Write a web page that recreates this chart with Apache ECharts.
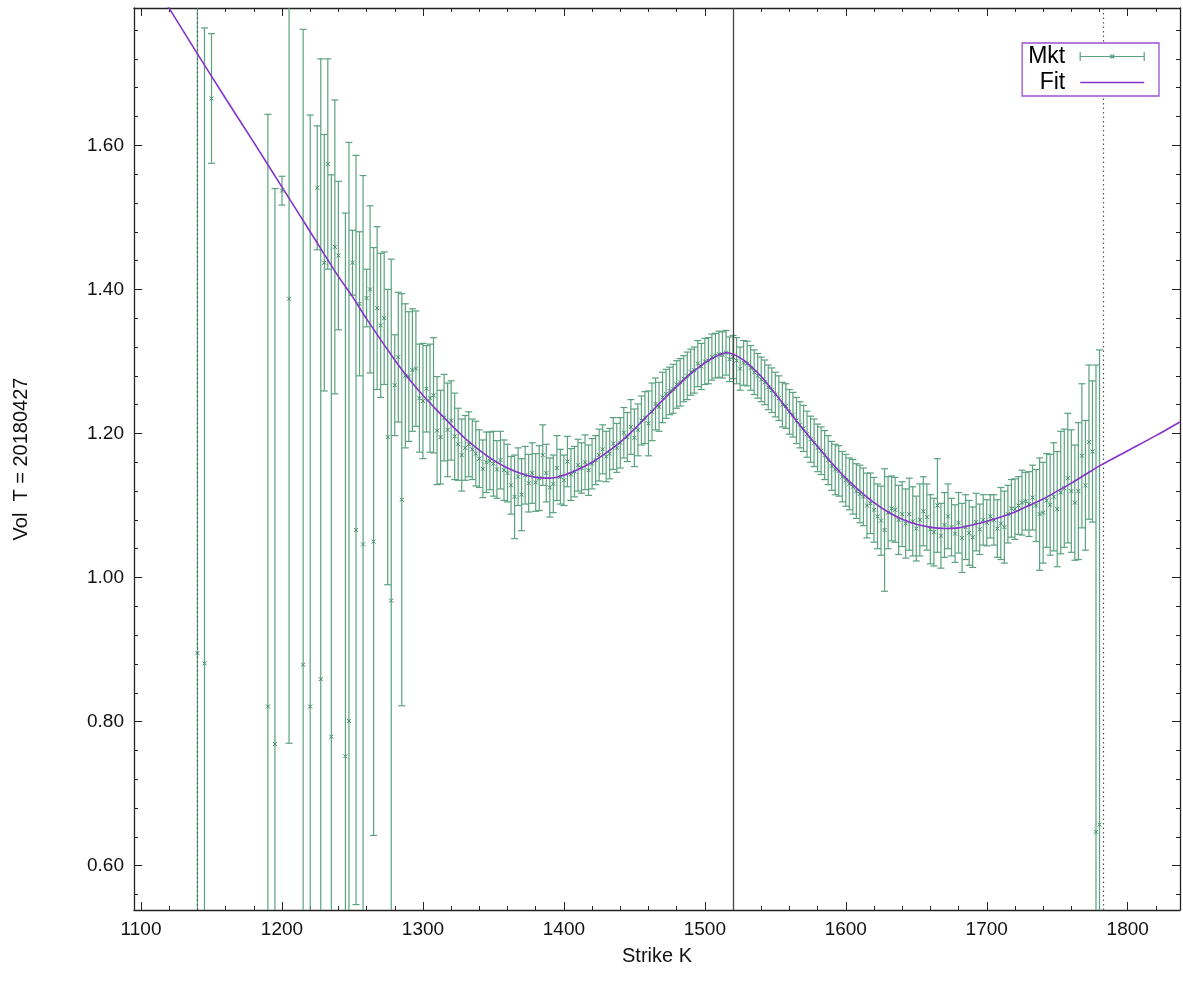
<!DOCTYPE html>
<html>
<head>
<meta charset="utf-8">
<script src="https://cdn.jsdelivr.net/npm/echarts@6/dist/echarts.min.js"></script>
<style>
html,body{margin:0;padding:0;background:#fff;}
#chart{width:1183px;height:984px;}
</style>
</head>
<body>
<div id="chart"></div>
<script>
// ---------- DATA ----------
const xTicks = [1100, 1200, 1300, 1400, 1500, 1600, 1700, 1800];
const xMinorTicks = [1100,1120,1140,1160,1180,1200,1220,1240,1260,1280,1300,1320,1340,1360,1380,1400,1420,1440,1460,1480,1500,1520,1540,1560,1580,1600,1620,1640,1660,1680,1700,1720,1740,1760,1780,1800,1820];
const yTicks = [0.6, 0.8, 1.0, 1.2, 1.4, 1.6];
const yMinorTicks = [0.56,0.60,0.64,0.68,0.72,0.76,0.80,0.84,0.88,0.92,0.96,1.00,1.04,1.08,1.12,1.16,1.20,1.24,1.28,1.32,1.36,1.40,1.44,1.48,1.52,1.56,1.60,1.64,1.68,1.72,1.76];

const atmLine = [1520];
const boundLines = [1140, 1783];

// Market vols with error half-widths
const mktStrike = [
 1140,1145,1150,1190,1195,1200,1205,1215,1220,1225,
 1227.5,1230,1232.5,1235,1237.5,1240,1245,1247.5,1250,1252.5,
 1255,1257.5,1260,1262.5,1265,1267.5,1270,1272.5,1275,1277.5,
 1280,1282.5,1285,1287.5,
 1290,1292.5,1295,1297.5,1300,1302.5,1305,1307.5,1310,1312.5,
 1315,1317.5,1320,1322.5,1325,1327.5,1330,1332.5,1335,1337.5,
 1340,1342.5,1345,1347.5,1350,1352.5,1355,1357.5,1360,1362.5,
 1365,1367.5,1370,1372.5,1375,1377.5,1380,1382.5,1385,1387.5,
 1390,1392.5,1395,1397.5,1400,1402.5,1405,1407.5,1410,1412.5,
 1415,1417.5,1420,1422.5,1425,1427.5,1430,1432.5,1435,1437.5,
 1440,1442.5,1445,1447.5,1450,1452.5,1455,1457.5,1460,1462.5,
 1465,1467.5,1470,1472.5,1475,1477.5,1480,1482.5,1485,1487.5,
 1490,1492.5,1495,1497.5,1500,1502.5,1505,1507.5,1510,1512.5,
 1515,1517.5,1520,1522.5,1525,1527.5,1530,1532.5,1535,1537.5,
 1540,1542.5,1545,1547.5,1550,1552.5,1555,1557.5,1560,1562.5,
 1565,1567.5,1570,1572.5,1575,1577.5,1580,1582.5,1585,1587.5,
 1590,1592.5,1595,1597.5,1600,1602.5,1605,1607.5,1610,1612.5,
 1615,1617.5,1620,1622.5,1625,1627.5,1630,1632.5,1635,1637.5,
 1640,1642.5,1645,1647.5,1650,1652.5,1655,1657.5,1660,1662.5,
 1665,1667.5,1670,1672.5,1675,1677.5,1680,1682.5,1685,1687.5,
 1690,1692.5,1695,1697.5,1700,1702.5,1705,1707.5,1710,1712.5,
 1715,1717.5,1720,1722.5,1725,1727.5,1730,1732.5,1735,1737.5,
 1740,1742.5,1745,1747.5,1750,1752.5,1755,1757.5,1760,1762.5,
 1765,1767.5,1770,1772.5,1775,1777.5,1780
];
const mktVol = [
 0.895,0.881,1.665,0.821,0.769,1.537,1.387,0.879,0.821,1.541,
 0.859,1.437,1.574,0.779,1.459,1.447,0.752,0.801,1.437,1.066,
 1.380,1.046,1.388,1.400,1.050,1.374,1.350,1.360,1.195,0.968,
 1.267,1.306,1.108,1.280,
 1.279,1.288,1.290,1.249,1.245,1.262,1.249,1.253,1.204,1.195,
 1.222,1.205,1.218,1.196,1.185,1.170,1.180,1.185,1.178,1.172,
 1.165,1.151,1.160,1.162,1.158,1.150,1.163,1.149,1.145,1.128,
 1.112,1.140,1.115,1.142,1.131,1.145,1.132,1.138,1.170,1.145,
 1.125,1.130,1.152,1.140,1.135,1.161,1.143,1.147,1.156,1.152,
 1.160,1.149,1.158,1.163,1.170,1.178,1.168,1.172,1.186,1.180,
 1.187,1.201,1.195,1.209,1.194,1.205,1.218,1.222,1.214,1.230,
 1.241,1.237,1.250,1.255,1.259,1.262,1.268,1.271,1.276,1.280,
 1.285,1.288,1.297,1.293,1.300,1.301,1.306,1.308,1.310,1.309,
 1.312,1.303,1.306,1.301,1.290,1.298,1.297,1.291,1.285,1.280,
 1.275,1.271,1.264,1.260,1.254,1.249,1.240,1.238,1.230,1.226,
 1.218,1.212,1.207,1.199,1.192,1.187,1.180,1.176,1.170,1.163,
 1.155,1.150,1.148,1.140,1.135,1.130,1.126,1.120,1.116,1.112,
 1.100,1.103,1.094,1.085,1.079,1.066,1.090,1.096,1.094,1.080,
 1.088,1.075,1.088,1.078,1.068,1.080,1.092,1.084,1.067,1.063,
 1.100,1.058,1.073,1.085,1.070,1.061,1.076,1.055,1.070,1.062,
 1.056,1.077,1.067,1.080,1.076,1.085,1.080,1.068,1.075,1.070,
 1.088,1.096,1.095,1.100,1.104,1.106,1.102,1.111,1.100,1.088,
 1.090,1.107,1.101,1.112,1.095,1.118,1.124,1.138,1.120,1.104,
 1.120,1.169,1.128,1.188,1.175,0.647,0.657
];
const mktErr = [
 1.000,0.882,0.090,0.822,0.771,0.020,0.617,0.882,0.821,0.086,
 0.861,0.178,0.146,0.780,0.204,0.103,0.754,0.803,0.045,0.520,
 0.100,0.512,0.040,0.116,0.408,0.113,0.100,0.092,0.205,0.474,
 0.070,0.090,0.286,0.100,
 0.090,0.085,0.080,0.075,0.080,0.060,0.075,0.080,0.075,0.065,
 0.060,0.065,0.055,0.060,0.050,0.050,0.045,0.045,0.042,0.045,
 0.040,0.040,0.042,0.040,0.045,0.040,0.040,0.042,0.040,0.040,
 0.058,0.040,0.050,0.040,0.040,0.042,0.040,0.045,0.042,0.040,
 0.041,0.040,0.045,0.038,0.035,0.035,0.036,0.035,0.036,0.035,
 0.038,0.035,0.035,0.034,0.036,0.034,0.035,0.035,0.036,0.034,
 0.035,0.035,0.034,0.038,0.040,0.036,0.034,0.036,0.045,0.040,
 0.036,0.034,0.035,0.034,0.033,0.034,0.033,0.033,0.032,0.033,
 0.032,0.032,0.032,0.032,0.032,0.032,0.032,0.031,0.032,0.032,
 0.031,0.031,0.030,0.032,0.030,0.031,0.031,0.031,0.031,0.031,
 0.031,0.031,0.031,0.031,0.031,0.031,0.031,0.031,0.031,0.031,
 0.032,0.032,0.032,0.032,0.032,0.033,0.033,0.033,0.034,0.034,
 0.034,0.035,0.035,0.035,0.036,0.036,0.038,0.038,0.040,0.040,
 0.045,0.042,0.045,0.045,0.048,0.085,0.050,0.045,0.045,0.048,
 0.045,0.048,0.050,0.048,0.045,0.050,0.048,0.046,0.048,0.047,
 0.065,0.045,0.045,0.045,0.040,0.040,0.042,0.048,0.045,0.045,
 0.042,0.040,0.035,0.035,0.032,0.030,0.035,0.040,0.050,0.050,
 0.040,0.040,0.042,0.040,0.045,0.040,0.045,0.045,0.050,0.078,
 0.070,0.065,0.070,0.075,0.080,0.085,0.082,0.090,0.085,0.080,
 0.095,0.100,0.090,0.107,0.098,0.648,0.659
];

// Fitted smile
const fitStrike = [1095,1120,1140,1160,1180,1200,1220,1240,1250,1260,1280,1290,1300,1310,1320,1330,1340,1350,1360,1370,1380,1390,1400,1410,1420,1430,1440,1450,1460,1470,1480,1490,1500,1505,1510,1515,1520,1525,1530,1540,1550,1560,1570,1580,1590,1600,1610,1620,1630,1640,1650,1660,1670,1680,1690,1700,1710,1720,1730,1740,1750,1760,1770,1780,1800,1820,1837];
const fitVol = [1.867,1.790,1.727,1.665,1.604,1.542,1.480,1.418,1.390,1.359,1.302,1.276,1.253,1.232,1.212,1.193,1.177,1.163,1.152,1.144,1.139,1.138,1.142,1.150,1.160,1.173,1.188,1.206,1.226,1.246,1.265,1.283,1.298,1.304,1.309,1.312,1.310,1.305,1.298,1.279,1.255,1.230,1.205,1.182,1.159,1.138,1.120,1.104,1.091,1.081,1.074,1.070,1.068,1.069,1.073,1.078,1.084,1.091,1.100,1.109,1.120,1.131,1.143,1.155,1.176,1.197,1.216];

// ---------- STYLE ----------
const GREEN = '#5aa27f';
const GREEN_DARK = '#3f8c63';
const PURPLE = '#8533c9';
const FONT = '"Liberation Sans", Arial, Helvetica, sans-serif';
const X_MIN = 1095, X_MAX = 1837.1, Y_MIN = 0.5385, Y_MAX = 1.7906;

const mktData = mktStrike.map((k, i) => [k, mktVol[i], mktErr[i]]);
const fitData = fitStrike.map((k, i) => [k, fitVol[i]]);

function xAxisDef(pos, ticks, len, showLine, showLabel) {
  return {
    type: 'value', min: X_MIN, max: X_MAX, position: pos,
    axisLine: { show: showLine, onZero: false, lineStyle: { color: '#222', width: 1.3 } },
    axisTick: { show: true, inside: true, length: len, customValues: ticks, lineStyle: { color: '#222', width: 1 } },
    axisLabel: showLabel ? { show: true, customValues: ticks, margin: 10, fontSize: 19, color: '#111', fontFamily: FONT,
      formatter: v => String(v) } : { show: false },
    splitLine: { show: false }, minorTick: { show: false }
  };
}
function yAxisDef(pos, ticks, len, showLine, showLabel) {
  return {
    type: 'value', min: Y_MIN, max: Y_MAX, position: pos,
    axisLine: { show: showLine, onZero: false, lineStyle: { color: '#222', width: 1.3 } },
    axisTick: { show: true, inside: true, length: len, customValues: ticks, lineStyle: { color: '#222', width: 1 } },
    axisLabel: showLabel ? { show: true, customValues: ticks, margin: 10, fontSize: 19, color: '#111', fontFamily: FONT,
      formatter: v => v.toFixed(2) } : { show: false },
    splitLine: { show: false }, minorTick: { show: false }
  };
}

const xAxes = [
  Object.assign(xAxisDef('bottom', xTicks, 8, true, true), {
    name: 'Strike K', nameLocation: 'middle', nameGap: 36,
    nameTextStyle: { fontSize: 20, color: '#111', fontFamily: FONT }
  }),
  xAxisDef('bottom', xMinorTicks, 4, false, false),
  xAxisDef('top', xTicks, 8, true, false),
  xAxisDef('top', xMinorTicks, 4, false, false)
];
const yAxes = [
  Object.assign(yAxisDef('left', yTicks, 8, true, true), {
    name: 'Vol  T = 20180427', nameLocation: 'middle', nameGap: 103, nameRotate: 90,
    nameTextStyle: { fontSize: 20, color: '#111', fontFamily: FONT }
  }),
  yAxisDef('left', yMinorTicks, 4, false, false),
  yAxisDef('right', yTicks, 8, true, false),
  yAxisDef('right', yMinorTicks, 4, false, false)
];

const refLineData = atmLine.map(v => ({ xAxis: v, lineStyle: { color: '#444', width: 1.3, type: 'solid' } }))
  .concat(boundLines.map(v => ({ xAxis: v, lineStyle: { color: '#555', width: 1.2, type: [1.5, 3] } })));

const chart = echarts.init(document.getElementById('chart'), null, { renderer: 'canvas' });
chart.setOption({
  animation: false,
  backgroundColor: '#fff',
  textStyle: { fontFamily: FONT },
  grid: { left: 134, right: 3, top: 8, bottom: 74, containLabel: false },
  xAxis: xAxes,
  yAxis: yAxes,
  legend: {
    show: true, orient: 'vertical', align: 'right', right: 24, top: 43,
    itemWidth: 64, itemHeight: 9, itemGap: 3,
    padding: [2, 14, 2, 6],
    borderColor: '#9b4fd6', borderWidth: 1.3, borderRadius: 0,
    backgroundColor: '#fff',
    selectedMode: false,
    textStyle: { fontSize: 23, color: '#000', fontFamily: FONT, padding: [0, 10, 0, 0] },
    data: [
      { name: 'Mkt', icon: 'path://M0,0L0,9M0,4.5L64,4.5M64,0L64,9M30,2.5L34,6.5M30,6.5L34,2.5',
        itemStyle: { color: 'transparent', borderColor: GREEN, borderWidth: 1.2 } },
      { name: 'Fit', icon: 'path://M0,0M0,4.5L64,4.5M64,9',
        itemStyle: { color: 'transparent', borderColor: PURPLE, borderWidth: 1.6 } }
    ]
  },
  series: [
    {
      name: 'Mkt', type: 'custom', xAxisIndex: 0, yAxisIndex: 0, silent: true,
      data: mktData,
      encode: { x: 0, y: 1 },
      itemStyle: { color: GREEN },
      z: 2,
      renderItem: function (params, api) {
        const k = api.value(0), c = api.value(1), h = api.value(2);
        const top = api.coord([k, c + h]);
        const bot = api.coord([k, c - h]);
        const mid = api.coord([k, c]);
        const cs = params.coordSys;
        const y0 = cs.y, y1 = cs.y + cs.height;
        const ty = Math.max(top[1], y0), by = Math.min(bot[1], y1);
        const st = { stroke: GREEN, lineWidth: 1.2 };
        const cap = 3.5;
        const ch = [];
        if (by > ty) ch.push({ type: 'line', shape: { x1: mid[0], y1: ty, x2: mid[0], y2: by }, style: st });
        if (top[1] >= y0 && top[1] <= y1) ch.push({ type: 'line', shape: { x1: mid[0] - cap, y1: top[1], x2: mid[0] + cap, y2: top[1] }, style: st });
        if (bot[1] <= y1 && bot[1] >= y0) ch.push({ type: 'line', shape: { x1: mid[0] - cap, y1: bot[1], x2: mid[0] + cap, y2: bot[1] }, style: st });
        if (mid[1] >= y0 && mid[1] <= y1) {
          const m = 2;
          const ms = { stroke: GREEN_DARK, lineWidth: 1 };
          ch.push({ type: 'line', shape: { x1: mid[0] - m, y1: mid[1] - m, x2: mid[0] + m, y2: mid[1] + m }, style: ms });
          ch.push({ type: 'line', shape: { x1: mid[0] - m, y1: mid[1] + m, x2: mid[0] + m, y2: mid[1] - m }, style: ms });
        }
        return { type: 'group', children: ch };
      }
    },
    {
      name: 'Fit', type: 'line', xAxisIndex: 0, yAxisIndex: 0,
      data: fitData, smooth: 0.3, symbol: 'none', clip: true,
      lineStyle: { color: PURPLE, width: 1.6 },
      itemStyle: { color: PURPLE },
      z: 4,
      markLine: {
        silent: true, symbol: ['none', 'none'], label: { show: false },
        z: 3,
        data: refLineData
      }
    }
  ]
});
</script>
</body>
</html>
